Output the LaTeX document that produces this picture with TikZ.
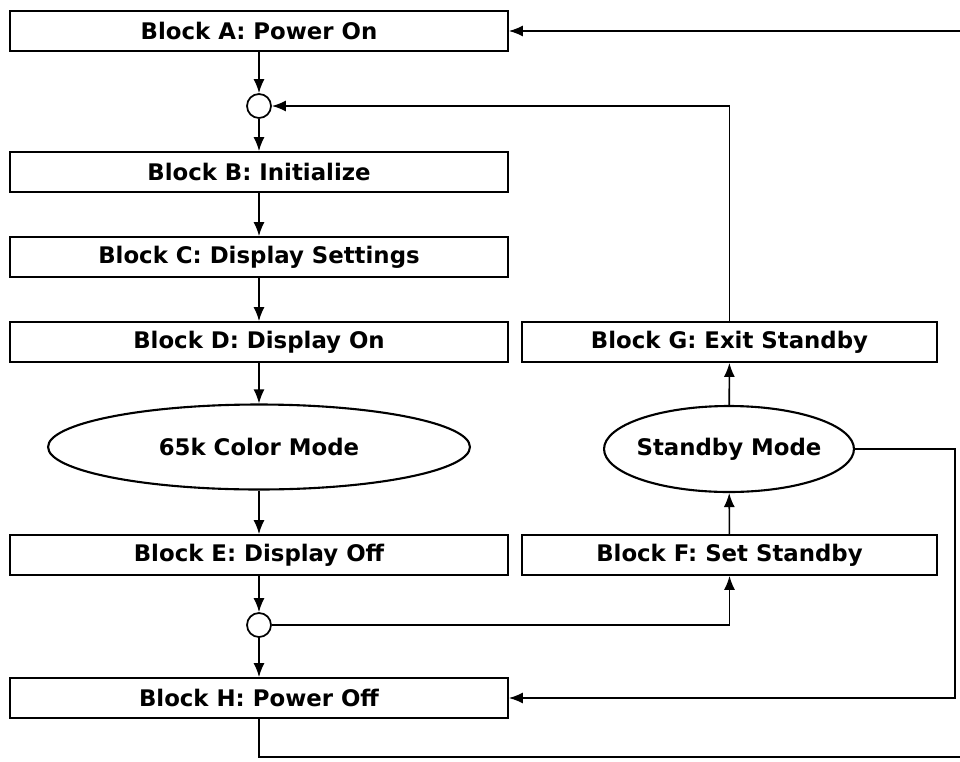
\documentclass[tikz,border=0pt]{standalone}
\usepackage{fontspec}
\setmainfont{DejaVu Sans}
\usetikzlibrary{shapes.geometric,arrows.meta}
\begin{document}
\begin{tikzpicture}[x=0.02cm,y=-0.02cm,
  every node/.style={font=\fontsize{13}{15}\selectfont\bfseries},
  lbox/.style={draw,line width=1pt,minimum width=9.96cm,minimum height=0.8cm,inner sep=0pt},
  rbox/.style={draw,line width=1pt,minimum width=8.3cm,minimum height=0.8cm,inner sep=0pt},
  junc/.style={draw,circle,line width=1pt,minimum size=0.48cm,inner sep=0pt},
  oval/.style={draw,ellipse,line width=1.2pt,inner sep=0pt},
  arr/.style={line width=0.9pt,-{Latex[length=2.8mm,width=2.2mm]}},
  ln/.style={line width=0.9pt}]
\useasboundingbox (0,0) rectangle (960,761);
\node[lbox] (A) at (259,31) {Block A: Power On};
\node[junc] (c1) at (259,106) {};
\node[lbox] (B) at (259,172) {Block B: Initialize};
\node[lbox] (C) at (259,257) {Block C: Display Settings};
\node[lbox] (D) at (259,342) {Block D: Display On};
\node[rbox] (G) at (729.5,342) {Block G: Exit Standby};
\node[oval,minimum width=8.44cm,minimum height=1.7cm] (M) at (259,447) {65k Color Mode};
\node[oval,minimum width=5cm,minimum height=1.72cm,inner xsep=-2.5pt] (S) at (729,449) {Standby Mode};
\node[lbox] (E) at (259,555) {Block E: Display Off};
\node[rbox] (F) at (729.5,555) {Block F: Set Standby};
\node[junc] (c2) at (259,625) {};
\node[lbox] (H) at (259,698) {Block H: Power Off};
\coordinate (tr) at (960,31);
\coordinate (br) at (960,757);
\coordinate (rt) at (955,449);
\coordinate (rb) at (955,698);
\draw[arr] (A) -- (c1);
\draw[arr] (c1) -- (B);
\draw[arr] (B) -- (C);
\draw[arr] (C) -- (D);
\draw[arr] (D) -- (M);
\draw[arr] (M) -- (E);
\draw[arr] (E) -- (c2);
\draw[arr] (c2) -- (H);
\draw[arr] (tr) -- (A.east);
\draw[arr] (G.north) |- (c1.east);
\draw[arr] (S) -- (G);
\draw[arr] (F) -- (S);
\draw[arr] (c2.east) -| (F.south);
\draw[arr] (S.east) -- (rt) -- (rb) -- (H.east);
\draw[ln] (H.south) |- (br);
\end{tikzpicture}
\end{document}
